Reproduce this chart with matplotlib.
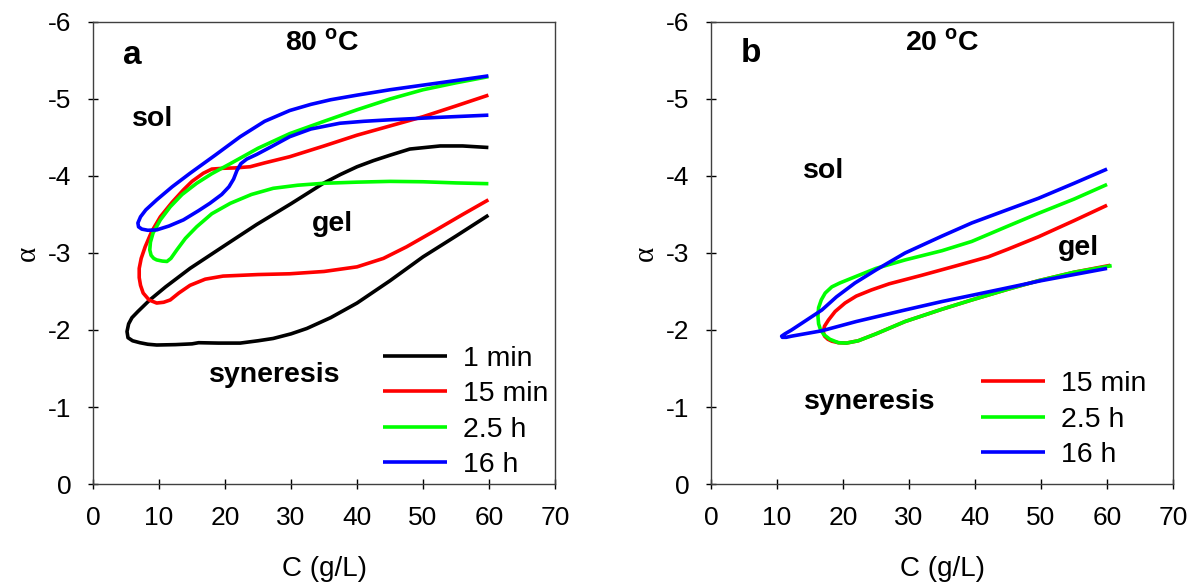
import matplotlib
matplotlib.use("Agg")
import matplotlib.pyplot as plt

plt.rcParams['font.family'] = ['Liberation Sans', 'DejaVu Sans']
plt.rcParams['mathtext.fontset'] = 'custom'
plt.rcParams['mathtext.rm'] = 'Liberation Sans'
plt.rcParams['mathtext.bf'] = 'Liberation Sans:bold'
plt.rcParams['axes.unicode_minus'] = False

# ---- panel a, 80 C ----
a_1min_C = [59.9, 56, 52.6, 48, 45.0, 42.5, 40, 37.5, 34.9, 30, 24.8, 20, 14.7, 11, 8.6, 6.8, 5.9, 5.4,
            5.15, 5.3, 6.0, 7.1, 8.3, 9.65, 12.5, 15.0, 16.0, 19, 22.3, 25, 27.3, 30, 32.4, 36, 40, 45,
            50, 55, 59.9]
a_1min_a = [-4.37, -4.39, -4.39, -4.35, -4.27, -4.2, -4.12, -4.02, -3.905, -3.64, -3.37, -3.1, -2.80,
            -2.56, -2.39, -2.24, -2.16, -2.08, -1.98, -1.9, -1.86, -1.835, -1.815, -1.805, -1.81, -1.82,
            -1.835, -1.83, -1.83, -1.86, -1.89, -1.95, -2.02, -2.16, -2.35, -2.64, -2.95, -3.22, -3.49]

a_15min_C = [59.9, 55, 50, 45, 40, 35, 29.8, 26, 23.8, 21.5, 19.7, 18, 16.7, 15, 13.7, 12, 10.2, 8.9,
             7.9, 7.3, 7.0, 7.0, 7.2, 7.6, 8.5, 9.65, 10.7, 11.7, 13, 14.7, 17, 19.7, 25, 29.8, 35, 40,
             44, 47.5, 52, 56, 59.9]
a_15min_a = [-5.05, -4.91, -4.77, -4.65, -4.53, -4.39, -4.25, -4.17, -4.12, -4.105, -4.10, -4.09, -4.035,
             -3.93, -3.82, -3.66, -3.47, -3.28, -3.08, -2.93, -2.8, -2.68, -2.58, -2.48, -2.39, -2.35,
             -2.36, -2.39, -2.48, -2.58, -2.66, -2.70, -2.72, -2.73, -2.76, -2.82, -2.93, -3.08, -3.3,
             -3.5, -3.69]

a_2h_C = [59.9, 55, 50, 45, 40, 35, 29.8, 25, 20.8, 18, 15.7, 13.5, 11.7, 10.2, 9.1, 8.7, 8.6, 8.8,
          9.2, 9.65, 10.5, 11.2, 11.8, 12.7, 14, 15.7, 18, 20.8, 24, 27.3, 31, 34.9, 40, 45, 50, 55, 59.9]
a_2h_a = [-5.29, -5.21, -5.12, -5.0, -4.86, -4.71, -4.55, -4.36, -4.16, -4.03, -3.905, -3.76, -3.60,
          -3.43, -3.26, -3.14, -3.04, -2.97, -2.93, -2.91, -2.895, -2.89, -2.93, -3.04, -3.19, -3.34,
          -3.51, -3.645, -3.76, -3.84, -3.88, -3.905, -3.92, -3.93, -3.925, -3.91, -3.90]

a_16h_C = [59.9, 55, 50, 45, 40, 36, 33, 29.8, 26, 22.3, 18.5, 14.7, 12, 9.65, 8, 7.2, 6.8, 6.9, 7.4,
           8.3, 9.65, 11.5, 13.7, 16, 17.7, 19.5, 20.6, 21.3, 21.8, 22.4, 23.3, 24.8, 27, 29.8, 33,
           37.4, 41, 45, 52, 59.9]
a_16h_a = [-5.30, -5.24, -5.18, -5.12, -5.05, -4.99, -4.93, -4.85, -4.71, -4.51, -4.27, -4.035, -3.86,
           -3.69, -3.56, -3.47, -3.39, -3.34, -3.31, -3.295, -3.30, -3.35, -3.43, -3.55, -3.645, -3.76,
           -3.86, -3.96, -4.07, -4.16, -4.22, -4.28, -4.38, -4.51, -4.61, -4.685, -4.71, -4.73, -4.76,
           -4.79]

# ---- panel b, 20 C ----
b_15min_C = [60, 55, 49.6, 45, 42, 37, 31.9, 27, 24.3, 22, 20.3, 18.8, 17.8, 17.2, 17.0, 17.2, 17.7,
             18.3, 19.3, 20.5, 22.3, 25, 29.4, 35, 39.5, 45, 49.6, 55, 60.5]
b_15min_a = [-3.62, -3.42, -3.21, -3.05, -2.95, -2.83, -2.71, -2.6, -2.52, -2.44, -2.35, -2.24, -2.13,
             -2.05, -1.98, -1.92, -1.88, -1.855, -1.835, -1.83, -1.86, -1.95, -2.11, -2.27, -2.39,
             -2.53, -2.64, -2.75, -2.84]

b_2h_C = [60, 55, 49.6, 45, 39.5, 35, 29.4, 25, 21.8, 19.5, 18.3, 17.3, 16.7, 16.3, 16.2, 16.3, 16.6,
          17.1, 18, 19.3, 20.5, 22.3, 25, 29.4, 35, 39.5, 45, 49.6, 55, 60.7]
b_2h_a = [-3.89, -3.70, -3.515, -3.35, -3.15, -3.03, -2.91, -2.8, -2.69, -2.61, -2.56, -2.48, -2.39,
          -2.29, -2.18, -2.08, -2.0, -1.94, -1.88, -1.835, -1.83, -1.86, -1.95, -2.11, -2.27, -2.39,
          -2.53, -2.64, -2.75, -2.835]

b_16h_C = [60, 55, 49.6, 45, 39.5, 35, 29.4, 25, 21.8, 19, 16.8, 14.5, 12.2, 11.2, 10.7, 10.8, 11.4,
           12.2, 14.5, 16.8, 22, 29.4, 35, 39.5, 44.5, 50, 55, 60]
b_16h_a = [-4.09, -3.905, -3.71, -3.565, -3.39, -3.22, -3.0, -2.78, -2.61, -2.43, -2.26, -2.13, -2.0,
           -1.95, -1.92, -1.905, -1.905, -1.92, -1.955, -1.99, -2.11, -2.26, -2.37, -2.45, -2.54, -2.64,
           -2.72, -2.80]

fig = plt.figure(figsize=(11.97, 5.83), dpi=100)
ax1 = fig.add_axes([0.0777, 0.1698, 0.386, 0.7925])
ax2 = fig.add_axes([0.594, 0.1698, 0.386, 0.7925])

lw = 2.6
style = dict(lw=lw, solid_joinstyle='round', solid_capstyle='butt')
ax1.plot(a_1min_C, a_1min_a, color='black', label='1 min', **style)
ax1.plot(a_15min_C, a_15min_a, color='#ff0000', label='15 min', **style)
ax1.plot(a_2h_C, a_2h_a, color='#00ff00', label='2.5 h', **style)
ax1.plot(a_16h_C, a_16h_a, color='#0000ff', label='16 h', **style)

ax2.plot(b_15min_C, b_15min_a, color='#ff0000', label='15 min', **style)
ax2.plot(b_2h_C, b_2h_a, color='#00ff00', label='2.5 h', **style)
ax2.plot(b_16h_C, b_16h_a, color='#0000ff', label='16 h', **style)

for ax in (ax1, ax2):
    ax.set_xlim(0, 70)
    ax.set_ylim(0, -6)
    ax.set_xticks(range(0, 71, 10))
    ax.set_yticks(range(0, -7, -1))
    ax.tick_params(direction='inout', length=7, width=1, labelsize=19, pad=12)
    for s in ax.spines.values():
        s.set_color('#404040')
        s.set_linewidth(1)
    ax.set_xlabel('C (g/L)', fontsize=20, labelpad=19)
    ax.set_ylabel('α', fontsize=21, family=['Liberation Serif', 'DejaVu Serif'], labelpad=5)

leg = dict(loc='upper left', frameon=False, fontsize=20.5, handlelength=2.25, handletextpad=0.57,
           labelspacing=0.33, borderpad=0, borderaxespad=0)
ax1.legend(bbox_to_anchor=(0.627, 0.299), **leg)
ax2.legend(bbox_to_anchor=(0.584, 0.244), **leg)

bold = dict(fontweight='bold', ha='center', va='center')
ax1.text(5.9, -5.57, 'a', fontsize=24, **bold)
ax1.text(34.8, -5.73, r'80 $^{\mathbf{o}}$C', fontsize=20.5, **bold)
ax1.text(9.1, -4.74, 'sol', fontsize=20.5, **bold)
ax1.text(36.3, -3.38, 'gel', fontsize=20.5, **bold)
ax1.text(27.6, -1.41, 'syneresis', fontsize=20.5, **bold)

ax2.text(6.0, -5.59, 'b', fontsize=24, **bold)
ax2.text(35.1, -5.73, r'20 $^{\mathbf{o}}$C', fontsize=20.5, **bold)
ax2.text(17.1, -4.07, 'sol', fontsize=20.5, **bold)
ax2.text(55.7, -3.06, 'gel', fontsize=20.5, **bold)
ax2.text(24.0, -1.07, 'syneresis', fontsize=20.5, **bold)

fig.savefig('out.png', dpi=100)
